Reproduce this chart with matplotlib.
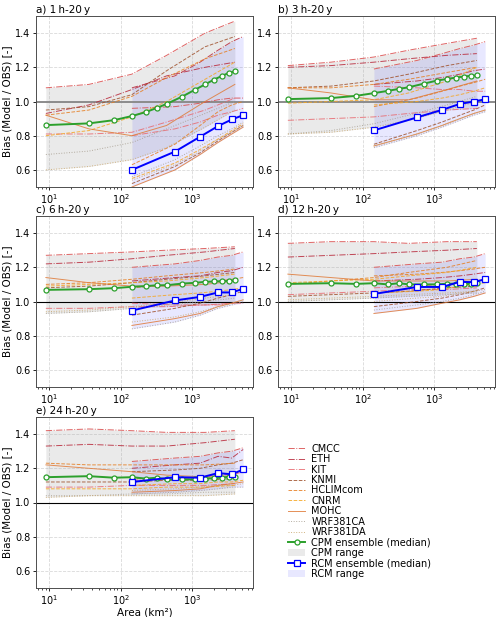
import numpy as np
import matplotlib.pyplot as plt

# ---- data ----
models = ["CMCC", "ETH", "KIT", "KNMI", "HCLIMcom", "CNRM", "MOHC", "WRF381CA", "WRF381DA"]
model_colors = ["#d94a4a", "#b8283a", "#e86a70", "#a0522d", "#e67e22", "#f5a623", "#e07b39", "#a89f91", "#c9a66b"]
model_styles = ["-.", "-.", "-.", "--", "--", "--", "-", ":", ":"]

panel_titles = ["a) 1\u2009h-20\u2009y", "b) 3\u2009h-20\u2009y", "c) 6\u2009h-20\u2009y",
                "d) 12\u2009h-20\u2009y", "e) 24\u2009h-20\u2009y"]

cpm_area = [9, 36, 81, 144, 225, 324, 441, 729, 1089, 1521, 2025, 2601, 3249, 3969]
rcm_area = [144, 576, 1296, 2304, 3600, 5184]
cpm_model_area = [9, 36, 144, 441, 1521, 3969]

# medians
cpm_med_a = [0.862, 0.872, 0.891, 0.915, 0.938, 0.963, 0.986, 1.029, 1.068, 1.100, 1.128, 1.149, 1.167, 1.177]
cpm_med_b = [1.014, 1.020, 1.033, 1.049, 1.062, 1.074, 1.083, 1.105, 1.122, 1.132, 1.140, 1.146, 1.150, 1.153]
cpm_med_c = [1.068, 1.072, 1.078, 1.086, 1.090, 1.095, 1.095, 1.105, 1.109, 1.115, 1.117, 1.119, 1.120, 1.124]
cpm_med_d = [1.103, 1.107, 1.103, 1.107, 1.100, 1.107, 1.100, 1.100, 1.100, 1.104, 1.104, 1.102, 1.104, 1.107]
cpm_med_e = [1.148, 1.154, 1.145, 1.148, 1.140, 1.145, 1.135, 1.135, 1.135, 1.140, 1.142, 1.146, 1.150, 1.152]

rcm_med_a = [0.600, 0.707, 0.794, 0.856, 0.895, 0.920]
rcm_med_b = [0.831, 0.907, 0.951, 0.986, 1.000, 1.013]
rcm_med_c = [0.947, 1.006, 1.027, 1.053, 1.053, 1.074]
rcm_med_d = [1.044, 1.085, 1.085, 1.115, 1.113, 1.130]
rcm_med_e = [1.120, 1.148, 1.145, 1.172, 1.165, 1.193]

# individual models (rows in the order of 'models')
cpm_models_a = [[1.08, 1.10, 1.16, 1.27, 1.40, 1.47],
                [0.93, 0.98, 1.07, 1.15, 1.20, 1.23],
                [0.81, 0.81, 0.82, 0.88, 0.95, 1.02],
                [0.95, 0.97, 1.04, 1.18, 1.32, 1.38],
                [0.92, 0.95, 1.03, 1.14, 1.25, 1.31],
                [0.80, 0.83, 0.91, 1.00, 1.13, 1.23],
                [0.92, 0.84, 0.80, 0.86, 1.00, 1.10],
                [0.69, 0.71, 0.76, 0.84, 0.93, 1.00],
                [0.60, 0.62, 0.66, 0.73, 0.85, 0.95]]
rcm_models_a = [[0.96, 0.97, 0.99, 1.01, 1.02, 1.02],
                [1.08, 1.15, 1.23, 1.30, 1.35, 1.38],
                [0.80, 0.84, 0.88, 0.92, 0.94, 0.96],
                [0.52, 0.62, 0.70, 0.77, 0.82, 0.86],
                [0.63, 0.75, 0.86, 0.94, 0.98, 1.00],
                [0.55, 0.64, 0.72, 0.78, 0.83, 0.87],
                [0.50, 0.60, 0.69, 0.76, 0.81, 0.85],
                [0.56, 0.66, 0.74, 0.80, 0.84, 0.88],
                [0.54, 0.63, 0.71, 0.78, 0.82, 0.86]]

cpm_models_b = [[1.21, 1.23, 1.26, 1.30, 1.34, 1.37],
                [1.20, 1.21, 1.23, 1.25, 1.27, 1.28],
                [0.89, 0.90, 0.91, 0.93, 0.95, 0.96],
                [1.08, 1.09, 1.12, 1.16, 1.21, 1.24],
                [1.08, 1.08, 1.10, 1.13, 1.17, 1.20],
                [0.99, 1.00, 1.01, 1.05, 1.12, 1.20],
                [1.08, 1.05, 1.01, 1.01, 1.07, 1.12],
                [0.81, 0.83, 0.87, 0.92, 0.98, 1.03],
                [0.81, 0.82, 0.85, 0.89, 0.95, 1.00]]
rcm_models_b = [[1.19, 1.24, 1.28, 1.31, 1.33, 1.35],
                [1.10, 1.12, 1.14, 1.16, 1.18, 1.19],
                [1.09, 1.08, 1.07, 1.07, 1.06, 1.06],
                [0.75, 0.83, 0.88, 0.92, 0.95, 0.98],
                [0.97, 1.02, 1.06, 1.09, 1.11, 1.13],
                [0.98, 1.00, 1.02, 1.04, 1.06, 1.08],
                [0.74, 0.81, 0.86, 0.90, 0.93, 0.95],
                [0.73, 0.80, 0.85, 0.89, 0.92, 0.94],
                [0.74, 0.81, 0.86, 0.90, 0.93, 0.95]]

cpm_models_c = [[1.27, 1.28, 1.29, 1.30, 1.31, 1.32],
                [1.22, 1.23, 1.25, 1.27, 1.29, 1.31],
                [0.96, 0.96, 0.97, 0.97, 0.98, 0.99],
                [1.08, 1.09, 1.11, 1.13, 1.15, 1.17],
                [1.10, 1.11, 1.13, 1.15, 1.17, 1.19],
                [1.09, 1.10, 1.11, 1.12, 1.14, 1.16],
                [1.14, 1.11, 1.09, 1.09, 1.10, 1.12],
                [0.93, 0.94, 0.96, 0.98, 1.00, 1.02],
                [0.94, 0.95, 0.97, 0.99, 1.02, 1.04]]
rcm_models_c = [[1.20, 1.22, 1.24, 1.26, 1.27, 1.29],
                [1.12, 1.14, 1.15, 1.17, 1.18, 1.20],
                [0.99, 0.98, 0.98, 0.98, 0.99, 0.99],
                [0.92, 0.96, 0.99, 1.02, 1.04, 1.06],
                [1.08, 1.10, 1.11, 1.12, 1.13, 1.14],
                [1.02, 1.04, 1.05, 1.06, 1.07, 1.08],
                [0.86, 0.90, 0.93, 0.97, 0.99, 1.01],
                [0.84, 0.88, 0.92, 0.96, 0.98, 1.00],
                [0.88, 0.91, 0.94, 0.97, 0.99, 1.01]]

cpm_models_d = [[1.34, 1.35, 1.35, 1.34, 1.35, 1.35],
                [1.26, 1.27, 1.28, 1.29, 1.30, 1.31],
                [1.04, 1.05, 1.06, 1.07, 1.07, 1.08],
                [1.03, 1.04, 1.05, 1.06, 1.08, 1.09],
                [1.10, 1.12, 1.14, 1.17, 1.20, 1.24],
                [1.11, 1.12, 1.13, 1.15, 1.17, 1.20],
                [1.16, 1.14, 1.12, 1.12, 1.12, 1.13],
                [1.00, 1.01, 1.02, 1.03, 1.04, 1.05],
                [1.01, 1.02, 1.03, 1.04, 1.05, 1.06]]
rcm_models_d = [[1.20, 1.22, 1.23, 1.25, 1.26, 1.28],
                [1.12, 1.13, 1.14, 1.15, 1.16, 1.17],
                [1.08, 1.09, 1.10, 1.11, 1.12, 1.13],
                [0.97, 1.00, 1.02, 1.04, 1.06, 1.08],
                [1.15, 1.16, 1.17, 1.18, 1.19, 1.20],
                [1.05, 1.06, 1.07, 1.09, 1.10, 1.11],
                [0.93, 0.96, 0.99, 1.01, 1.03, 1.05],
                [0.95, 0.98, 1.00, 1.02, 1.04, 1.06],
                [1.00, 1.02, 1.03, 1.05, 1.06, 1.07]]

cpm_models_e = [[1.42, 1.43, 1.42, 1.41, 1.41, 1.42],
                [1.33, 1.34, 1.33, 1.33, 1.35, 1.37],
                [1.09, 1.09, 1.10, 1.10, 1.10, 1.11],
                [1.12, 1.12, 1.12, 1.13, 1.13, 1.14],
                [1.23, 1.22, 1.22, 1.22, 1.22, 1.23],
                [1.08, 1.08, 1.08, 1.09, 1.09, 1.10],
                [1.22, 1.20, 1.18, 1.16, 1.15, 1.15],
                [1.04, 1.04, 1.05, 1.05, 1.06, 1.06],
                [1.03, 1.04, 1.04, 1.04, 1.04, 1.05]]
rcm_models_e = [[1.24, 1.26, 1.27, 1.29, 1.30, 1.32],
                [1.20, 1.22, 1.23, 1.27, 1.26, 1.31],
                [1.13, 1.14, 1.14, 1.16, 1.16, 1.18],
                [1.18, 1.19, 1.20, 1.22, 1.23, 1.25],
                [1.14, 1.14, 1.15, 1.16, 1.17, 1.18],
                [1.10, 1.11, 1.11, 1.12, 1.12, 1.13],
                [1.06, 1.07, 1.08, 1.10, 1.11, 1.12],
                [1.05, 1.06, 1.07, 1.08, 1.09, 1.09],
                [1.07, 1.08, 1.09, 1.10, 1.10, 1.11]]

cpm_meds = [cpm_med_a, cpm_med_b, cpm_med_c, cpm_med_d, cpm_med_e]
rcm_meds = [rcm_med_a, rcm_med_b, rcm_med_c, rcm_med_d, rcm_med_e]
cpm_models = [cpm_models_a, cpm_models_b, cpm_models_c, cpm_models_d, cpm_models_e]
rcm_models = [rcm_models_a, rcm_models_b, rcm_models_c, rcm_models_d, rcm_models_e]

# ---- figure ----
plt.rcParams['font.family'] = 'DejaVu Sans'
fig = plt.figure(figsize=(5.0, 6.17), dpi=100)

W, H = 500, 617
boxes = [(36, 16), (278, 16), (36, 216), (278, 216), (36, 417)]   # left, top in pixels
aw, ah = 217, 171

axes = []
for i in range(5):
    l, t = boxes[i]
    ax = fig.add_axes([l / W, 1 - (t + ah) / H, aw / W, ah / H])
    axes.append(ax)

    cm = np.array(cpm_models[i])
    rm = np.array(rcm_models[i])

    ax.fill_between(cpm_model_area, cm.min(axis=0), cm.max(axis=0), color='0.6', alpha=0.2,
                    lw=0, label="CPM range", zorder=1)
    ax.fill_between(rcm_area, rm.min(axis=0), rm.max(axis=0), color='blue', alpha=0.09,
                    lw=0, label="RCM range", zorder=1)

    if i < 2:
        ax.axhline(1.0, color='0.55', lw=1.4, zorder=2)
    else:
        ax.axhline(1.0, color='k', lw=0.8, zorder=2)

    for k, name in enumerate(models):
        ax.plot(cpm_model_area, cm[k], color=model_colors[k], ls=model_styles[k], lw=0.7,
                alpha=0.85, label=name, zorder=3)
        ax.plot(rcm_area, rm[k], color=model_colors[k], ls=model_styles[k], lw=0.7,
                alpha=0.85, zorder=3)

    ax.plot(cpm_area, cpm_meds[i], color='#2ca02c', lw=1.4, marker='o', ms=3.6,
            mfc='white', mec='#2ca02c', mew=0.9, label="CPM ensemble (median)", zorder=5)
    ax.plot(rcm_area, rcm_meds[i], color='#0000ff', lw=1.4, marker='s', ms=4.3,
            mfc='white', mec='#0000ff', mew=0.9, label="RCM ensemble (median)", zorder=5)

    ax.set_xscale('log')
    ax.set_ylim(0.5, 1.5)
    ax.set_yticks([0.6, 0.8, 1.0, 1.2, 1.4])
    ax.grid(True, ls='--', color='0.85', lw=0.6)
    ax.set_axisbelow(True)
    ax.tick_params(labelsize=7, length=2.5, width=0.6, pad=1.5)
    ax.tick_params(which='minor', length=1.5, width=0.5)
    for s in ax.spines.values():
        s.set_linewidth(0.7)
        s.set_color('0.3')
    ax.set_title(panel_titles[i], loc='left', fontsize=7.5, pad=2)
    if i % 2 == 0:
        ax.set_ylabel("Bias (Model / OBS) [-]", fontsize=7.5, labelpad=2)

axes[4].set_xlabel("Area (km\u00b2)", fontsize=7.5, labelpad=0)

# ---- legend ----
h, lab = axes[0].get_legend_handles_labels()
order = models + ["CPM ensemble (median)", "CPM range", "RCM ensemble (median)", "RCM range"]
hd = dict(zip(lab, h))
fig.legend([hd[o] for o in order], order, loc='upper left', bbox_to_anchor=(284 / W, 1 - 440 / H),
           frameon=False, fontsize=7, handlelength=1.8, handletextpad=0.6, labelspacing=0.04,
           borderaxespad=0)

fig.savefig("out.png", dpi=100)
